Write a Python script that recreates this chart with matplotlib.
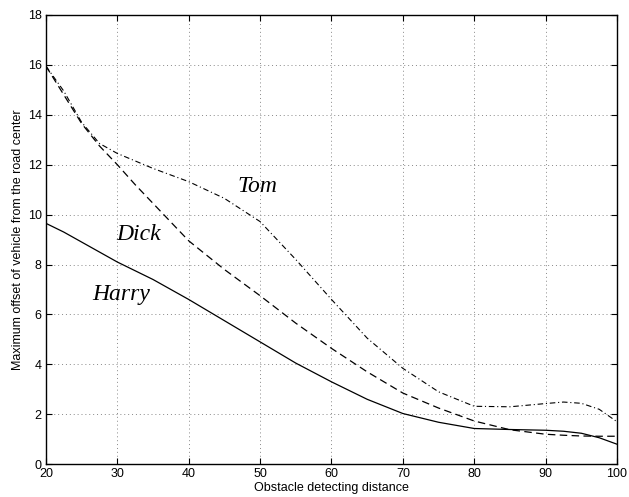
import matplotlib.pyplot as plt

# data
x = [20, 22.5, 25, 27.5, 30, 32.5, 35, 40, 45, 50, 55, 60, 65, 70, 75, 80, 85, 90, 92.5, 95, 97.5, 100]
harry = [9.65, 9.3, 8.9, 8.5, 8.1, 7.75, 7.4, 6.6, 5.75, 4.9, 4.05, 3.3, 2.6, 2.03, 1.68, 1.43, 1.39, 1.36, 1.32, 1.24, 1.06, 0.8]
dick = [15.95, 14.8, 13.65, 12.75, 12.0, 11.2, 10.45, 8.95, 7.8, 6.75, 5.65, 4.64, 3.7, 2.85, 2.25, 1.73, 1.38, 1.2, 1.16, 1.13, 1.12, 1.12]
tom = [15.95, 14.95, 13.7, 12.85, 12.45, 12.15, 11.85, 11.32, 10.65, 9.72, 8.2, 6.6, 5.05, 3.84, 2.9, 2.32, 2.3, 2.43, 2.49, 2.44, 2.2, 1.7]

plt.rcParams['font.family'] = ['Liberation Sans', 'DejaVu Sans']
fig = plt.figure(figsize=(6.29, 4.97), dpi=100)
ax = fig.add_axes([0.073, 0.066, 0.908, 0.904])

ax.plot(x, harry, '-', color='black', lw=0.9)
ax.plot(x, dick, color='black', lw=0.9, dashes=(6, 3.5))
ax.plot(x, tom, color='black', lw=0.8, dashes=(5, 2.5, 1, 2.5))

serif = {'family': 'Liberation Serif', 'style': 'italic', 'size': 17}
ax.text(49.6, 10.9, 'Tom', ha='center', va='baseline', fontdict=serif)
ax.text(33.0, 9.0, 'Dick', ha='center', va='baseline', fontdict=serif)
ax.text(30.5, 6.58, 'Harry', ha='center', va='baseline', fontdict=serif)

ax.set_xlim(20, 100)
ax.set_ylim(0, 18)
ax.set_xticks(range(20, 101, 10))
ax.set_yticks(range(0, 19, 2))
ax.grid(True, linestyle=(0, (1, 3)), color='#888888', lw=0.7)
ax.tick_params(direction='in', top=True, right=True, labelsize=9, length=4, pad=3)
for s in ax.spines.values():
    s.set_linewidth(1.0)

ax.set_xlabel('Obstacle detecting distance', fontsize=9, labelpad=1)
ax.set_ylabel('Maximum offset of vehicle from the road center', fontsize=9, labelpad=3)

plt.savefig('out.png', dpi=100)
